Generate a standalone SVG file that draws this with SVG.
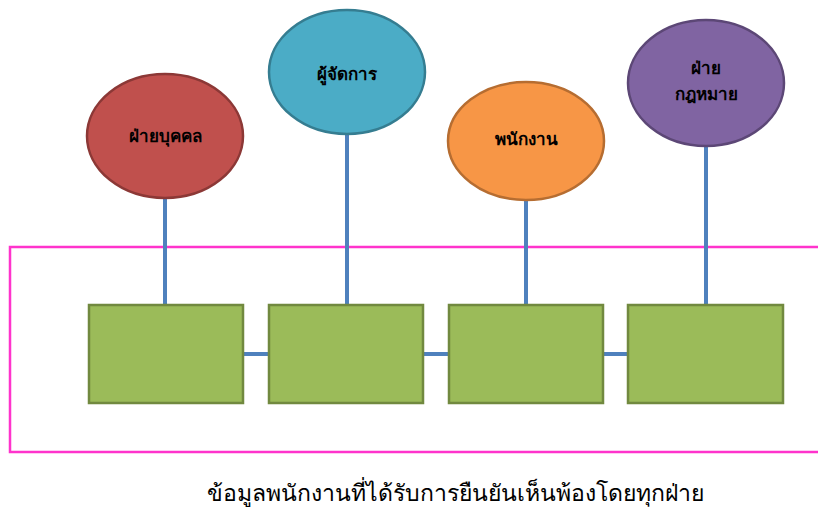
<svg xmlns="http://www.w3.org/2000/svg" width="818" height="507" viewBox="0 0 818 507">
<style>
.lbl{font-family:"Noto Sans","DejaVu Sans",sans-serif;font-size:17px;font-weight:bold;fill:#000;text-anchor:middle}
.box{fill:#9BBB59;stroke:#71893F;stroke-width:2.5}
.con{stroke:#4F81BD;stroke-width:4;fill:none}
</style>
<rect width="818" height="507" fill="#fff"/>
<rect x="10" y="247" width="820" height="205" fill="none" stroke="#FF33CC" stroke-width="2.5"/>
<g id="connectors">
<line class="con" x1="165" y1="198" x2="165" y2="305"/>
<line class="con" x1="347" y1="134" x2="347" y2="305"/>
<line class="con" x1="526" y1="200" x2="526" y2="305"/>
<line class="con" x1="706" y1="147" x2="706" y2="305"/>
<line class="con" x1="243" y1="354" x2="269" y2="354"/>
<line class="con" x1="423" y1="354" x2="449" y2="354"/>
<line class="con" x1="603" y1="354" x2="628" y2="354"/>
</g>
<g id="box1"><rect class="box" x="89" y="305" width="154" height="98"/></g>
<g id="box2"><rect class="box" x="269" y="305" width="154" height="98"/></g>
<g id="box3"><rect class="box" x="449" y="305" width="154" height="98"/></g>
<g id="box4"><rect class="box" x="628" y="305" width="155" height="98"/></g>
<g id="hr"><ellipse cx="165" cy="136" rx="78" ry="62" fill="#C0504D" stroke="#8C3836" stroke-width="2.5"/><text class="lbl" x="165" y="142">ฝ่ายบุคคล</text></g>
<g id="manager"><ellipse cx="347" cy="72" rx="78" ry="62" fill="#4BACC6" stroke="#357D91" stroke-width="2.5"/><text class="lbl" x="347" y="80">ผู้จัดการ</text></g>
<g id="staff"><ellipse cx="526" cy="141" rx="78" ry="59" fill="#F79646" stroke="#B66D31" stroke-width="2.5"/><text class="lbl" x="526" y="145">พนักงาน</text></g>
<g id="legal"><ellipse cx="706" cy="83" rx="78" ry="63" fill="#8064A2" stroke="#5C4776" stroke-width="2.5"/><text class="lbl" x="706" y="74">ฝ่าย</text><text class="lbl" x="706" y="100">กฎหมาย</text></g>
<text x="455" y="501" font-family="Noto Sans,DejaVu Sans,sans-serif" font-size="23" font-weight="500" fill="#000" text-anchor="middle">ข้อมูลพนักงานที่ได้รับการยืนยันเห็นพ้องโดยทุกฝ่าย</text>
</svg>
